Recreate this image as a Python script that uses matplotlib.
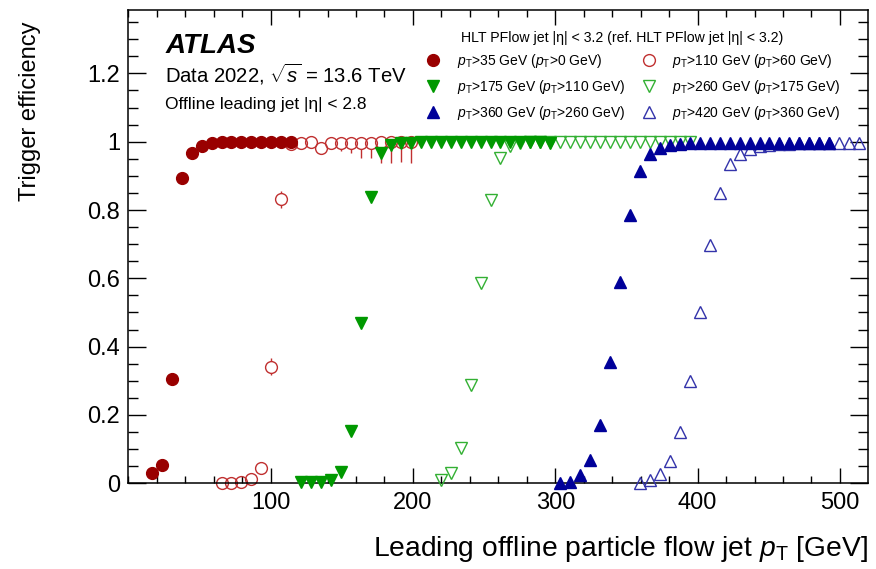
import matplotlib
matplotlib.use('Agg')
import matplotlib.pyplot as plt
from matplotlib.ticker import MultipleLocator, FormatStrFormatter

plt.rcParams['font.family'] = ['Liberation Sans', 'DejaVu Sans']
plt.rcParams['mathtext.fontset'] = 'custom'
plt.rcParams['mathtext.rm'] = 'Liberation Sans'
plt.rcParams['mathtext.it'] = 'Liberation Sans:italic'
plt.rcParams['mathtext.sf'] = 'Liberation Sans'

# pT>35 GeV (ref pT>0 GeV), filled red circles
x_j35 = [16.5, 23.5, 30.5, 37.5, 44.5, 51.5, 58.5, 65.5, 72.5, 79.5, 86.5, 93.5, 100.5, 107.5, 114.5]
y_j35 = [0.029, 0.054, 0.305, 0.893, 0.967, 0.988, 0.995, 0.998, 0.999, 1.0, 1.0, 1.0, 1.0, 1.0, 1.0]

# pT>110 GeV (ref pT>60 GeV), open red circles
x_j110 = [65.5, 72.5, 79.5, 86.5, 93.5, 100.5, 107.5, 114.5, 121.5, 128.5,
          135.5, 142.5, 149.5, 156.5, 163.5, 170.5, 177.5, 184.5, 191.5, 198.5]
y_j110 = [0.0, 0.002, 0.003, 0.012, 0.044, 0.341, 0.832, 0.993, 0.996, 1.0,
          0.981, 0.997, 0.997, 0.997, 0.997, 0.997, 0.998, 0.998, 0.998, 0.998]
lo_j110 = [0, 0, 0, 0, 0.003, 0.025, 0.025, 0.003, 0.003, 0.003,
           0.005, 0.008, 0.025, 0.03, 0.045, 0.045, 0.06, 0.06, 0.056, 0.06]
hi_j110 = [0, 0, 0, 0, 0.003, 0.025, 0.025, 0.003, 0.002, 0.0,
           0.005, 0.002, 0.002, 0.002, 0.002, 0.002, 0.002, 0.002, 0.002, 0.002]

# pT>175 GeV (ref pT>110 GeV), filled green down triangles
x_j175 = [121.5, 128.5, 135.5, 142.5, 149.5, 156.5, 163.5, 170.5, 177.5, 184.5,
          191.5, 198.5, 205.5, 212.5, 219.5, 226.5, 233.5, 240.5, 247.5, 254.5,
          261.5, 268.5, 275.5, 282.5, 289.5, 296.5]
y_j175 = [0.005, 0.005, 0.005, 0.01, 0.034, 0.152, 0.468, 0.837, 0.966, 0.99,
          0.995, 0.997, 0.998, 0.998, 0.998, 0.999, 0.998, 0.999, 0.998, 0.999,
          0.998, 0.999, 0.998, 0.998, 0.999, 0.995]

# pT>260 GeV (ref pT>175 GeV), open green down triangles
x_j260 = [219.5, 226.5, 233.5, 240.5, 247.5, 254.5, 261.5, 268.5, 275.5, 282.5,
          289.5, 296.5, 303.5, 310.5, 317.5, 324.5, 331.5, 338.5, 345.5, 352.5,
          359.5, 366.5, 373.5, 380.5, 387.5, 394.5]
y_j260 = [0.01, 0.031, 0.104, 0.287, 0.585, 0.829, 0.951, 0.986, 0.996, 0.998,
          0.999, 0.999, 1.0, 1.0, 1.0, 1.0, 1.0, 1.0, 1.0, 1.0,
          1.0, 1.0, 1.0, 1.0, 1.0, 1.0]

# pT>360 GeV (ref pT>260 GeV), filled blue up triangles
x_j360 = [303.5, 310.5, 317.5, 324.5, 331.5, 338.5, 345.5, 352.5, 359.5, 366.5,
          373.5, 380.5, 387.5, 394.5, 401.5, 408.5, 415.5, 422.5, 429.5, 436.5,
          443.5, 450.5, 457.5, 464.5, 471.5, 478.5, 485.5, 492.5]
y_j360 = [0.0, 0.005, 0.024, 0.068, 0.17, 0.356, 0.59, 0.786, 0.915, 0.964,
          0.981, 0.99, 0.993, 0.995, 0.996, 0.996, 0.996, 0.996, 0.996, 0.996,
          0.996, 0.996, 0.996, 0.996, 0.996, 0.996, 0.996, 0.996]

# pT>420 GeV (ref pT>360 GeV), open blue up triangles
x_j420 = [359.5, 366.5, 373.5, 380.5, 387.5, 394.5, 401.5, 408.5, 415.5, 422.5,
          429.5, 436.5, 443.5, 450.5, 457.5, 464.5, 471.5, 478.5, 485.5, 492.5,
          499.5, 506.5, 513.5]
y_j420 = [0.0, 0.01, 0.026, 0.065, 0.151, 0.30, 0.50, 0.698, 0.849, 0.934,
          0.964, 0.978, 0.986, 0.99, 0.992, 0.994, 0.995, 0.995, 0.996, 0.996,
          0.996, 0.996, 0.996]

labels = [r'$p_{\mathrm{T}}$>35 GeV ($p_{\mathrm{T}}$>0 GeV)',
          r'$p_{\mathrm{T}}$>110 GeV ($p_{\mathrm{T}}$>60 GeV)',
          r'$p_{\mathrm{T}}$>175 GeV ($p_{\mathrm{T}}$>110 GeV)',
          r'$p_{\mathrm{T}}$>260 GeV ($p_{\mathrm{T}}$>175 GeV)',
          r'$p_{\mathrm{T}}$>360 GeV ($p_{\mathrm{T}}$>260 GeV)',
          r'$p_{\mathrm{T}}$>420 GeV ($p_{\mathrm{T}}$>360 GeV)']

red = '#990000'
red_open = '#c03030'
green = '#009900'
green_open = '#33b033'
blue = '#000099'
blue_open = '#3333aa'

fig = plt.figure(figsize=(8.76, 5.69), dpi=100)
ax = fig.add_axes([128.3/876, 1-483.3/569, 739.4/876, 473.8/569])

# error bars drawn only outside the hollow marker, like ROOT does
r = 0.018
bx = [x for x, y, lo in zip(x_j110, y_j110, lo_j110) if lo > r]
b0 = [y - lo for x, y, lo in zip(x_j110, y_j110, lo_j110) if lo > r]
b1 = [y - r for x, y, lo in zip(x_j110, y_j110, lo_j110) if lo > r]
ax.vlines(bx, b0, b1, color=red_open, lw=1.0, zorder=2)
tx = [x for x, y, hi in zip(x_j110, y_j110, hi_j110) if hi > r]
t0 = [y + r for x, y, hi in zip(x_j110, y_j110, hi_j110) if hi > r]
t1 = [y + hi for x, y, hi in zip(x_j110, y_j110, hi_j110) if hi > r]
ax.vlines(tx, t0, t1, color=red_open, lw=1.0, zorder=2)

h1, = ax.plot(x_j35, y_j35, 'o', ms=8.5, color=red, clip_on=False, zorder=3)
h2, = ax.plot(x_j110, y_j110, 'o', ms=8.5, mfc='none', mec=red_open, mew=1.0,
              clip_on=False, zorder=2)
h3, = ax.plot(x_j175, y_j175, 'v', ms=9, color=green, clip_on=False, zorder=4)
h4, = ax.plot(x_j260, y_j260, 'v', ms=9, mfc='none', mec=green_open, mew=1.0,
              clip_on=False, zorder=3)
h5, = ax.plot(x_j360, y_j360, '^', ms=9, color=blue, clip_on=False, zorder=4)
h6, = ax.plot(x_j420, y_j420, '^', ms=9, mfc='none', mec=blue_open, mew=1.0,
              clip_on=False, zorder=3)

ax.set_xlim(0, 519.5)
ax.set_ylim(0, 1.387)
ax.set_xticks([100, 200, 300, 400, 500])
ax.xaxis.set_minor_locator(MultipleLocator(20))
ax.yaxis.set_major_locator(MultipleLocator(0.2))
ax.yaxis.set_minor_locator(MultipleLocator(0.05))
ax.yaxis.set_major_formatter(FormatStrFormatter('%g'))
ax.tick_params(which='both', direction='in', top=True, right=True, width=1.0, labelsize=17)
ax.tick_params(axis='x', which='major', length=10.5, pad=6)
ax.tick_params(axis='x', which='minor', length=5)
ax.tick_params(axis='y', which='major', length=13, pad=6)
ax.tick_params(axis='y', which='minor', length=7)
for s in ax.spines.values():
    s.set_linewidth(1.1)

ax.set_xlabel(r'Leading offline particle flow jet $p_{\mathrm{T}}$ [GeV]', fontsize=20.3, loc='right')
ax.xaxis.set_label_coords(1.0, -0.108)
ax.set_ylabel('Trigger efficiency', fontsize=17, loc='top')
ax.yaxis.set_label_coords(-0.118, 0.974)

ax.text(0.05, 0.908, 'ATLAS', transform=ax.transAxes, fontsize=20, fontweight='bold',
        fontstyle='italic')
ax.text(0.05, 0.845, r'Data 2022, $\sqrt{s}$ = 13.6 TeV', transform=ax.transAxes, fontsize=14.6)
ax.text(0.05, 0.79, 'Offline leading jet |η| < 2.8', transform=ax.transAxes, fontsize=12.5)

ax.text(0.45, 0.94, 'HLT PFlow jet |η| < 3.2 (ref. HLT PFlow jet |η| < 3.2)',
        transform=ax.transAxes, fontsize=10.2, va='center')

leg = ax.legend([h1, h3, h5, h2, h4, h6],
                [labels[0], labels[2], labels[4], labels[1], labels[3], labels[5]],
                ncol=2, frameon=False, loc='upper left', bbox_to_anchor=(0.401, 0.91),
                fontsize=10, handlelength=1.2, handletextpad=1.1, columnspacing=1.1,
                labelspacing=0.58, borderpad=0, borderaxespad=0)

fig.savefig('out.png', dpi=100)
